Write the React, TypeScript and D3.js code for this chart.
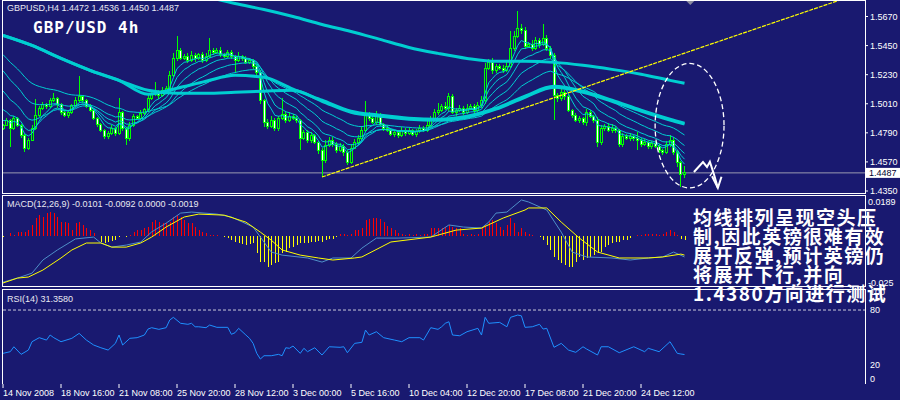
import React from "react"
import * as d3 from "d3"

// GBPUSD H4, one close per bar (14 Nov 2008 .. 26 Dec 2008)
const firstOpen = 1.4826
const closes = [
  1.4848, 1.4886, 1.4826, 1.4901, 1.4848, 1.4773, 1.4675, 1.4735, 1.4826, 1.4924,
  1.4976, 1.5006, 1.4991, 1.5037, 1.5052, 1.5006, 1.4946, 1.4924, 1.4946, 1.4999,
  1.5037, 1.5067, 1.5037, 1.4991, 1.4961, 1.4901, 1.4856, 1.481, 1.4765, 1.4788,
  1.4826, 1.4788, 1.4946, 1.4826, 1.475, 1.4848, 1.4916, 1.4901, 1.4939, 1.4969,
  1.5052, 1.5082, 1.5097, 1.5074, 1.5112, 1.5127, 1.5225, 1.5353, 1.5414, 1.5353,
  1.5368, 1.5338, 1.5376, 1.5353, 1.5383, 1.5338, 1.5368, 1.5414, 1.5399, 1.5414,
  1.5383, 1.5368, 1.5399, 1.5368, 1.5338, 1.5368, 1.5353, 1.5323, 1.5338, 1.5293,
  1.5248, 1.5037, 1.4871, 1.4841, 1.4886, 1.4826, 1.4901, 1.4931, 1.4886, 1.4916,
  1.4901, 1.4886, 1.475, 1.4795, 1.4735, 1.4773, 1.472, 1.466, 1.4584, 1.4697,
  1.4735, 1.4705, 1.466, 1.469, 1.4645, 1.4569, 1.4675, 1.472, 1.475, 1.481,
  1.4924, 1.4901, 1.4871, 1.4924, 1.4856, 1.4826, 1.481, 1.478, 1.4795, 1.4773,
  1.481, 1.4788, 1.481, 1.478, 1.4803, 1.4826, 1.481, 1.4848, 1.4901, 1.4946,
  1.4961, 1.4991, 1.4976, 1.5067, 1.4946, 1.4961, 1.4976, 1.4946, 1.4976, 1.4991,
  1.4961, 1.4999, 1.5037, 1.5278, 1.5323, 1.5263, 1.5293, 1.5278, 1.5263, 1.5293,
  1.5429, 1.5519, 1.558, 1.5564, 1.5444, 1.5459, 1.5429, 1.5489, 1.5459, 1.5504,
  1.5429, 1.5376, 1.5074, 1.5052, 1.5097, 1.5067, 1.4961, 1.4924, 1.4886, 1.4901,
  1.4871, 1.4946, 1.4916, 1.4886, 1.472, 1.4826, 1.4841, 1.481, 1.4826, 1.481,
  1.4705, 1.4765, 1.475, 1.4765, 1.475, 1.4735, 1.4705, 1.472, 1.469, 1.4712,
  1.469, 1.466, 1.4645, 1.4705, 1.4735, 1.4645, 1.4562, 1.4472, 1.4487,
]
// upper / lower shadows, in pips beyond the body
const wickUp = [
  10, 15, 8, 20, 12, 6, 10, 18, 25, 125,
  20, 15, 10, 18, 40, 12, 8, 20, 15, 10,
  22, 155, 12, 10, 15, 8, 12, 6, 10, 15,
  20, 10, 105, 12, 8, 25, 15, 10, 20, 12,
  30, 15, 75, 20, 25, 18, 30, 40, 110, 20,
  15, 25, 30, 20, 12, 18, 25, 90, 20, 15,
  25, 12, 20, 15, 10, 30, 12, 18, 20, 10,
  15, 20, 12, 25, 30, 15, 20, 125, 25, 30,
  20, 15, 12, 20, 15, 25, 10, 12, 15, 40,
  20, 25, 15, 20, 12, 18, 30, 25, 20, 30,
  110, 20, 25, 30, 15, 10, 20, 15, 12, 20,
  25, 15, 20, 10, 15, 25, 12, 30, 20, 25,
  55, 20, 30, 25, 20, 15, 25, 20, 30, 15,
  20, 25, 30, 40, 25, 30, 20, 15, 25, 30,
  135, 40, 135, 30, 25, 20, 30, 25, 20, 110,
  25, 20, 15, 20, 25, 15, 20, 10, 15, 20,
  12, 25, 15, 10, 20, 25, 15, 20, 30, 15,
  10, 20, 15, 25, 12, 50, 15, 20, 10, 15,
  20, 12, 10, 25, 35, 20, 15, 12, 49,
]
const wickDn = [
  15, 10, 140, 12, 15, 20, 30, 15, 10, 12,
  15, 10, 20, 12, 15, 25, 20, 15, 20, 10,
  12, 15, 20, 15, 10, 12, 20, 15, 25, 20,
  15, 20, 12, 25, 55, 20, 15, 10, 12, 15,
  20, 15, 12, 25, 15, 20, 12, 15, 20, 15,
  12, 20, 15, 25, 12, 20, 15, 10, 18, 12,
  20, 15, 12, 20, 90, 15, 20, 12, 15, 20,
  25, 30, 40, 20, 15, 25, 20, 15, 20, 12,
  15, 20, 90, 15, 25, 20, 15, 30, 125, 20,
  15, 20, 25, 15, 30, 20, 15, 10, 20, 15,
  12, 20, 15, 25, 15, 20, 12, 15, 25, 20,
  15, 20, 12, 15, 20, 12, 15, 10, 12, 15,
  20, 15, 12, 20, 15, 25, 12, 20, 15, 12,
  20, 15, 20, 30, 15, 25, 20, 15, 20, 12,
  15, 20, 12, 25, 20, 15, 20, 12, 25, 15,
  20, 25, 190, 30, 20, 25, 15, 20, 12, 25,
  20, 30, 15, 20, 40, 25, 20, 15, 25, 20,
  25, 20, 15, 20, 25, 75, 20, 15, 25, 20,
  15, 20, 25, 15, 20, 25, 30, 90, 22,
]

// long moving averages, read every 8 bars
const maBars = [0, 8, 16, 24, 32, 40, 48, 56, 64, 72, 80, 88, 96, 104, 112, 120, 128, 136, 144, 152, 160, 168, 176, 184, 188]
const maSlow = [
  1.6168, 1.6122, 1.607, 1.6024, 1.5979, 1.5926, 1.5874, 1.5821, 1.5768, 1.5723, 1.567, 1.561, 1.5557,
  1.5497, 1.5436, 1.5391, 1.5353, 1.5331, 1.5331, 1.5323, 1.5301, 1.527, 1.5233, 1.5187, 1.5165,
]
const maMid = [
  1.5527, 1.5451, 1.5353, 1.5263, 1.5187, 1.5112, 1.5089, 1.5089, 1.5097, 1.5105, 1.5112, 1.5029, 1.4946,
  1.4916, 1.4893, 1.4886, 1.4908, 1.4969, 1.5059, 1.5135, 1.5097, 1.5029, 1.4954, 1.4886, 1.4856,
]
const maFast = [
  1.5527, 1.5451, 1.5353, 1.5263, 1.5187, 1.5082, 1.5127, 1.518, 1.5225, 1.521, 1.512, 1.5037, 1.4954,
  1.4924, 1.4901, 1.4893, 1.4916, 1.4976, 1.5067, 1.5142, 1.5105, 1.5037, 1.4961, 1.4893, 1.4863,
]
// short EMA ribbon: periods and their values just before the first bar
const emaPeriods = [5, 8, 13, 21, 34]
const emaSeeds = [1.4901, 1.4999, 1.515, 1.5301, 1.5414]

// trend line anchors [bar, price]
const trendLine = [[88, 1.4456], [229, 1.5777]]

// MACD(12,26,9): histogram per bar, lines as [bar, value]
const macdHist = [
  -0.0005, 0.0003, 0.0014, 0.0008, 0.0022, 0.0022, 0.0022, 0.003, 0.0055, 0.0087,
  0.0103, 0.0095, 0.0112, 0.012, 0.0112, 0.0095, 0.0071, 0.0071, 0.0063, 0.003,
  0.0063, 0.0071, 0.0055, 0.0038, 0.003, 0.0014, 0.0003, -0.0027, -0.0035, -0.0027,
  -0.0022, -0.0019, -0.0004, 0.0003, -0.0005, 0.0004, 0.0022, 0.003, 0.003, 0.0038,
  0.0046, 0.0071, 0.0079, 0.0071, 0.0063, 0.0063, 0.0071, 0.0095, 0.0103, 0.0095,
  0.0079, 0.0063, 0.0063, 0.0046, 0.003, 0.0022, 0.0014, 0.0006, 0.0006, 0.0004,
  0.0002, -0.0004, -0.0008, -0.0019, -0.0027, -0.0035, -0.004, -0.0043, -0.004, -0.0035,
  -0.008, -0.0124, -0.0124, -0.0149, -0.014, -0.0132, -0.0124, -0.0083, -0.0076, -0.0059,
  -0.0051, -0.0043, -0.0035, -0.0035, -0.0035, -0.0027, -0.0027, -0.0025, -0.0027, -0.0019,
  -0.0015, -0.0011, -0.0006, 0.001, 0.0011, 0.0008, 0.0011, 0.003, 0.003, 0.0038,
  0.0079, 0.0084, 0.0087, 0.0087, 0.0084, 0.0071, 0.0051, 0.0038, 0.003, 0.0014,
  0.001, 0.0008, 0.001, 0.0008, 0.001, 0.0008, 0.001, 0.0012, 0.0038, 0.0038,
  0.0038, 0.0038, 0.0046, 0.0055, 0.0046, 0.0038, 0.0038, 0.001, 0.0008, 0.001,
  0.0008, 0.001, 0.0038, 0.0055, 0.0071, 0.0079, 0.0063, 0.0046, 0.003, 0.0055,
  0.0087, 0.0063, 0.0022, 0.0038, 0.0022, 0.0011, 0.0004, 0.0002, -0.0005, -0.0019,
  -0.0043, -0.0067, -0.01, -0.0116, -0.0132, -0.014, -0.0149, -0.0149, -0.0124, -0.01,
  -0.0116, -0.0108, -0.01, -0.0092, -0.0083, -0.0076, -0.0051, -0.0043, -0.0035, -0.0027,
  -0.0027, -0.0019, -0.0019, -0.001, 0.0002, 0.0006, 0.0008, 0.0011, 0.0011, 0.0011,
  0.001, 0.0006, 0.001, 0.0022, 0.003, 0.0022, 0.0004, -0.0012, -0.0019,
]
const macdMain = [
  [0, -0.0224], [4, -0.0204], [8, -0.018], [11, -0.0116], [15, -0.0067], [20, -0.0013], [25, -0.0004],
  [27, -0.0033], [30, -0.0053], [34, -0.0043], [38, -0.0028], [41, 0.0021], [45, 0.0064], [49, 0.0113],
  [52, 0.0118], [59, 0.0108], [63, 0.0094], [69, 0.0045], [71, -0.0004], [74, -0.0077], [77, -0.0092],
  [84, -0.0106], [88, -0.0126], [91, -0.0106], [96, -0.0106], [99, -0.0058], [103, -0.0009], [109, -0.0009],
  [118, -0.0004], [123, 0.0055], [127, 0.0045], [132, 0.004], [134, 0.0069], [136, 0.0113], [139, 0.0118],
  [143, 0.0177], [145, 0.0167], [150, 0.0128], [154, 0.002], [157, -0.0077], [161, -0.0101], [168, -0.0106],
  [173, -0.0116], [178, -0.0106], [182, -0.0101], [185, -0.0077], [188, -0.0101],
]
const macdSignal = [
  [0, -0.0228], [4, -0.0204], [7, -0.0199], [11, -0.0165], [16, -0.0106], [19, -0.0067], [23, -0.0033],
  [27, -0.0033], [30, -0.0053], [34, -0.0053], [38, -0.0033], [41, -0.0004], [45, 0.0045], [50, 0.0094],
  [54, 0.0108], [61, 0.0103], [67, 0.0069], [71, 0.002], [74, -0.0019], [77, -0.0067], [82, -0.0092],
  [87, -0.0106], [91, -0.0116], [97, -0.0106], [99, -0.0101], [107, -0.0028], [118, -0.0004], [125, 0.003],
  [132, 0.004], [138, 0.0089], [144, 0.0128], [145, 0.0138], [150, 0.0138], [154, 0.0069], [159, -0.0009],
  [164, -0.0077], [170, -0.0106], [178, -0.0106], [182, -0.0101], [187, -0.0087], [188, -0.0092],
]

// RSI(14) as [bar, value]
const rsi = [
  [0, 32.7], [2, 34.5], [3, 39.9], [5, 31.6], [7, 36.3], [8, 45.4], [10, 49.8], [12, 47.2], [13, 52.7],
  [14, 49.8], [16, 45.4], [19, 49.1], [21, 54.5], [23, 47.2], [25, 41.8], [27, 38.8], [29, 36.3], [31, 43.6],
  [32, 52.7], [33, 41.8], [35, 49.1], [37, 49.8], [39, 52.7], [40, 59.2], [41, 60.7], [43, 58.9], [45, 60.7],
  [46, 69.1], [47, 72.0], [49, 65.5], [51, 64.4], [52, 65.5], [53, 61.7], [54, 61.7], [56, 60.7], [57, 63.6],
  [59, 61.1], [62, 61.1], [63, 53.5], [64, 55.2], [65, 60.0], [67, 52.7], [68, 49.1], [69, 43.6], [70, 32.7],
  [71, 26.5], [72, 30.1], [74, 30.1], [76, 31.6], [77, 30.1], [78, 38.8], [79, 38.2], [80, 40.7], [82, 32.7],
  [83, 38.2], [84, 34.5], [86, 38.8], [88, 30.9], [90, 39.9], [93, 39.3], [94, 39.9], [95, 33.4], [97, 43.6],
  [99, 44.7], [100, 58.1], [101, 52.7], [103, 56.3], [105, 49.8], [108, 47.2], [110, 45.4], [112, 49.8],
  [115, 49.8], [116, 47.2], [118, 60.7], [120, 58.9], [121, 61.7], [122, 65.5], [123, 67.2], [124, 52.7],
  [126, 51.9], [128, 56.3], [131, 60.0], [132, 52.7], [133, 72.0], [134, 65.5], [137, 66.5], [139, 61.7],
  [140, 72.0], [142, 74.5], [143, 73.7], [144, 61.1], [146, 61.7], [148, 64.4], [149, 59.2], [150, 60.0],
  [152, 39.3], [154, 43.6], [156, 36.3], [158, 33.8], [160, 39.9], [161, 37.4], [164, 30.9], [165, 39.9],
  [167, 39.9], [170, 33.4], [174, 39.9], [177, 34.5], [178, 38.2], [181, 34.5], [184, 45.4], [186, 32.7],
  [187, 32.0], [188, 31.4],
]

const priceTicks = [1.567, 1.545, 1.523, 1.501, 1.479, 1.457, 1.435]
const lastPrice = 1.4487
const macdTicks = ["0.0189", "-0.025"]
const macdTickValues = [0.0189, -0.025]
const rsiTicks = [100, 80, 20, 0]
const timeBars = [0, 16, 32, 48, 64, 80, 96, 112, 128, 144, 160, 176]
const timeLabels = [
  "14 Nov 2008", "18 Nov 16:00", "21 Nov 08:00", "25 Nov 20:00", "28 Nov 12:00", "3 Dec 00:00",
  "5 Dec 16:00", "10 Dec 04:00", "12 Dec 20:00", "17 Dec 08:00", "21 Dec 20:00", "24 Dec 12:00",
]
const noteLines = ["均线排列呈现空头压", "制,因此英镑很难有效", "展开反弹,预计英镑仍", "将展开下行,并向", "1.4380方向进行测试"]

// hand drawn marks: ellipse around the last bars and a zigzag arrow, [bar, price]
const ringCenter = [189.4, 1.4844]
const ringHalf = [9.5, 0.0471]
const zigzag = [[190.6, 1.4494], [193.1, 1.4569], [194.2, 1.4532], [195, 1.4572], [196.1, 1.4478], [197.2, 1.4373]]
const zigHead = [[195.6, 1.4462], [197.2, 1.4373], [198.2, 1.4458]]

const BG = "#191970"
const CYAN = "#00ced1"
const FONT = "'Liberation Sans', Arial, sans-serif"

const App = () => {
  const x = d3.scaleLinear().domain([0, closes.length - 1]).range([3, 684.5])
  const y = d3.scaleLinear().domain([1.435, 1.567]).range([191, 16.5])
  const yM = d3.scaleLinear().domain([-0.025, 0.0189]).range([287.5, 197.5])
  const yR = d3.scaleLinear().domain([0, 100]).range([383.3, 291.7])

  const candles = closes.map((c, i) => {
    const o = i === 0 ? firstOpen : closes[i - 1]
    return {
      i,
      o,
      c,
      hi: Math.max(o, c) + wickUp[i] / 10000,
      lo: Math.min(o, c) - wickDn[i] / 10000,
    }
  })

  // ribbon of short EMAs
  const ribbon = emaPeriods.map((n, k) => {
    const a = 2 / (n + 1)
    let v = emaSeeds[k]
    return closes.map((c) => (v = v + a * (c - v)))
  })

  const lineP = d3
    .line<number>()
    .x((_, i) => x(i))
    .y((d) => y(d))
  const lineMa = d3
    .line<number>()
    .x((_, i) => x(maBars[i]))
    .y((d) => y(d))
    .curve(d3.curveMonotoneX)
  const lineMacd = d3
    .line<number[]>()
    .x((d) => x(d[0]))
    .y((d) => yM(d[1]))
  const lineRsi = d3
    .line<number[]>()
    .x((d) => x(d[0]))
    .y((d) => yR(d[1]))

  // extend trend line to the right edge
  const [[b0, p0], [b1, p1]] = trendLine
  const slope = (p1 - p0) / (b1 - b0)
  const bEnd = 240
  const ptLine = d3.line<number[]>().x((d) => x(d[0])).y((d) => y(d[1]))

  return (
    <svg
      width={900}
      height={400}
      style={{ position: "absolute", left: 0, top: 0, display: "block" }}
      fontFamily={FONT}
    >
      <defs>
        <clipPath id="mainClip">
          <rect x={3} y={1} width={862} height={192} />
        </clipPath>
        <clipPath id="macdClip">
          <rect x={3} y={196} width={862} height={90} />
        </clipPath>
      </defs>
      <rect width={900} height={400} fill={BG} />

      {/* main price panel */}
      <g clipPath="url(#mainClip)">
        <line x1={3} x2={865} y1={y(lastPrice)} y2={y(lastPrice)} stroke="#9a9ab0" strokeWidth={1} />
        <g shapeRendering="crispEdges">
          {candles.map((d) => (
            <line key={"w" + d.i} x1={x(d.i)} x2={x(d.i)} y1={y(d.hi)} y2={y(d.lo)} stroke="#00ff00" />
          ))}
          {candles.map((d) => {
            const top = y(Math.max(d.o, d.c))
            const h = Math.max(1, y(Math.min(d.o, d.c)) - top)
            return (
              <rect
                key={"b" + d.i}
                x={x(d.i) - 1}
                y={top}
                width={2}
                height={h}
                fill={d.c >= d.o ? BG : "#ffffff"}
                stroke="#00ff00"
                strokeWidth={1}
              />
            )
          })}
        </g>
        {ribbon.map((r, k) => (
          <path key={"r" + k} d={lineP(r) ?? ""} fill="none" stroke={CYAN} strokeWidth={1} />
        ))}
        {[maSlow, maMid, maFast].map((m, k) => (
          <path key={"m" + k} d={lineMa(m) ?? ""} fill="none" stroke={CYAN} strokeWidth={3} />
        ))}
        <path
          d={ptLine([[b0, p0], [bEnd, p0 + slope * (bEnd - b0)]]) ?? ""}
          fill="none"
          stroke="#ffff00"
          strokeWidth={1.2}
          strokeDasharray="4,1"
        />
        <ellipse
          cx={x(ringCenter[0])}
          cy={y(ringCenter[1])}
          rx={x(ringHalf[0]) - x(0)}
          ry={y(ringCenter[1] - ringHalf[1]) - y(ringCenter[1])}
          fill="none"
          stroke="#ffffff"
          strokeWidth={1.3}
          strokeDasharray="5,3"
        />
        <path d={ptLine(zigzag) ?? ""} fill="none" stroke="#ffffff" strokeWidth={2} strokeLinejoin="miter" />
        <path d={ptLine(zigHead) ?? ""} fill="none" stroke="#ffffff" strokeWidth={2} />
        <path
          d={`M${x(189.6) - 4},1 h8 l-4,4 z`}
          fill="#8c8ca0"
        />
      </g>

      {/* MACD panel */}
      <g clipPath="url(#macdClip)">
        <g shapeRendering="crispEdges">
          {macdHist.map((v, i) => (
            <line
              key={"h" + i}
              x1={Math.round(x(i)) + 0.5}
              x2={Math.round(x(i)) + 0.5}
              y1={yM(0)}
              y2={yM(v)}
              stroke={v >= 0 ? "#ff0000" : "#ffff00"}
              strokeWidth={1}
            />
          ))}
        </g>
        <path d={lineMacd(macdMain) ?? ""} fill="none" stroke="#4f8fc8" strokeWidth={1} />
        <path d={lineMacd(macdSignal) ?? ""} fill="none" stroke="#ffff00" strokeWidth={1} />
      </g>

      {/* RSI panel */}
      <line x1={3} x2={865} y1={yR(80)} y2={yR(80)} stroke="#c8c8d8" strokeDasharray="3,2" />
      <path d={lineRsi(rsi) ?? ""} fill="none" stroke="#1e90ff" strokeWidth={1} />

      {/* frames */}
      <g fill="none" stroke="#ffffff" strokeWidth={1} shapeRendering="crispEdges">
        <rect x={2.5} y={0.5} width={862.5} height={192.5} />
        <rect x={2.5} y={195.5} width={862.5} height={91} />
        <path d="M2.5,384 V289.5 H865 V384" />
      </g>

      {/* price axis */}
      {priceTicks.map((p) => (
        <g key={p}>
          <line x1={865} x2={868} y1={y(p)} y2={y(p)} stroke="#ffffff" />
          <text x={870} y={y(p)} dy="0.35em" fontSize={9} fill="#ffffff">
            {p.toFixed(4)}
          </text>
        </g>
      ))}
      <rect x={866} y={y(lastPrice) - 5} width={34} height={10} fill="#ffffff" />
      <text x={869} y={y(lastPrice)} dy="0.35em" fontSize={9} fill="#000030">
        {lastPrice.toFixed(4)}
      </text>

      {macdTicks.map((t, k) => (
        <text key={t} x={868} y={yM(macdTickValues[k]) + (k === 0 ? 4 : -5)} dy="0.35em" fontSize={9} fill="#ffffff">
          {t}
        </text>
      ))}
      {rsiTicks.map((t) => (
        <text key={t} x={870} y={yR(t) + (t === 0 ? -4 : 0)} dy="0.35em" fontSize={9} fill="#ffffff">
          {t}
        </text>
      ))}

      {/* time axis */}
      {timeBars.map((b, k) => (
        <g key={b}>
          <line x1={x(b)} x2={x(b)} y1={384} y2={388} stroke="#ffffff" />
          <text x={x(b)} y={396} fontSize={9} fill="#ffffff">
            {timeLabels[k]}
          </text>
        </g>
      ))}

      {/* titles */}
      <text x={7} y={11} fontSize={9} fill="#e8e8f0">
        GBPUSD,H4  1.4472 1.4536 1.4450 1.4487
      </text>
      <text x={33} y={33} fontSize={16} fontWeight="bold" fill="#ffffff" fontFamily="'DejaVu Sans Mono', monospace" letterSpacing={1}>
        GBP/USD 4h
      </text>
      <text x={7} y={207} fontSize={9} fill="#e8e8f0">
        MACD(12,26,9) -0.0101 -0.0092 0.0000 -0.0019
      </text>
      <text x={7} y={302} fontSize={9} fill="#e8e8f0">
        RSI(14) 31.3580
      </text>

      {/* comment */}
      <g fontFamily="'Noto Sans CJK SC', sans-serif" fontWeight="bold" fontSize={19} fill="#ffffff" letterSpacing={1.5}>
        {noteLines.map((t, k) => (
          <text key={k} x={693} y={225 + k * 18.9}>
            {t}
          </text>
        ))}
      </g>
    </svg>
  )
}

export default App
